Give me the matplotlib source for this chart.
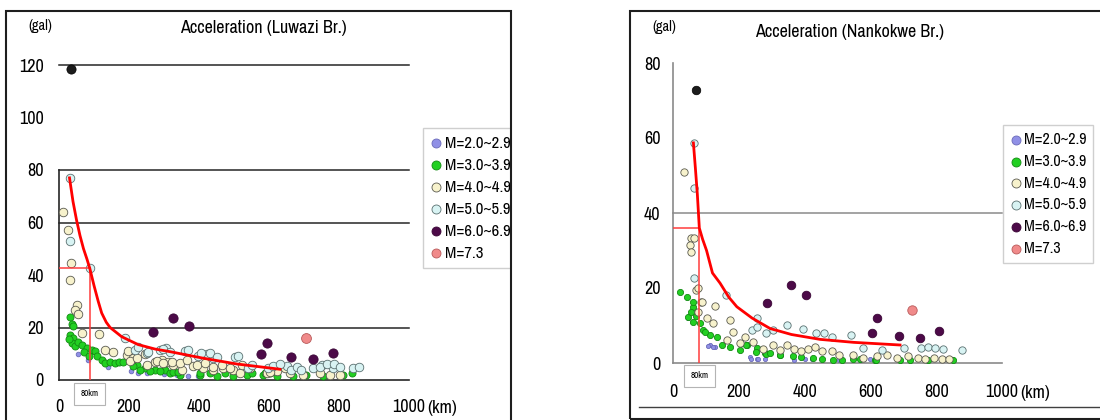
import matplotlib
matplotlib.use('Agg')
import matplotlib.pyplot as plt
from matplotlib import font_manager
from matplotlib.patches import Rectangle
from matplotlib.lines import Line2D

# the scan uses a condensed face, look for one
ttf = font_manager.fontManager.ttflist
names = {f.name for f in ttf}
FONT, STRETCH, K = 'DejaVu Sans', 'normal', 0.8
narrow = [n for n in sorted(names) if 'Narrow' in n or 'Condensed' in n]
if 'Liberation Sans Narrow' in names:
    FONT, K = 'Liberation Sans Narrow', 1.0
elif narrow:
    FONT, K = narrow[0], 1.0
else:
    for fam in ['DejaVu Sans', 'Noto Sans', 'Roboto', 'Open Sans']:
        if any(f.name == fam and str(f.stretch) in ('condensed', 'semi-condensed', '500', '600')
               for f in ttf):
            FONT, STRETCH, K = fam, 'condensed', 0.92
            break
plt.rcParams['font.family'] = FONT
plt.rcParams['font.stretch'] = STRETCH

labels = ['M=2.0~2.9', 'M=3.0~3.9', 'M=4.0~4.9', 'M=5.0~5.9', 'M=6.0~6.9', 'M=7.3']
colors = ['#9090e6', '#22d022', '#f7f2cc', '#d8f3f3', '#4c0a48', '#f08a8a']
edges = ['#6a6ab8', '#138a13', '#5a5a50', '#5a7070', '#3a0636', '#b85a5a']

xticks = [0, 200, 400, 600, 800, 1000]

# ---- Luwazi Br. ----
L_m2_km = [54, 82, 139, 207, 226, 250, 336, 369, 398, 536, 300]
L_m2_val = [9.8, 7.6, 5.0, 3.3, 2.6, 2.6, 2.0, 1.7, 1.7, 1.7, 2.2]
L_m3_km = [31, 36, 39, 31, 41, 36, 46, 28, 55, 65, 79, 93, 103, 108, 122, 131, 146, 160, 170, 184,
           222, 246, 274, 303, 70, 85, 212, 231, 260, 288, 317, 345, 402, 450, 498, 536, 583, 622,
           669, 707, 755, 812, 327, 341, 403, 431, 474, 550, 588, 603, 699, 838]
L_m3_val = [24, 21.5, 20.5, 17, 16, 14, 12.8, 15.5, 14.5, 13.5, 12.2, 11.6, 11, 9, 7.6, 6.3, 7, 6.3, 7, 7,
            5.7, 4.4, 3.8, 3.8, 10.5, 9, 5.2, 3.9, 3.3, 3.3, 2.7, 2, 2, 1.4, 1.4, 2, 2, 1.4,
            1.4, 2, 1.4, 2, 3.2, 3.2, 2.5, 2.5, 2.5, 2.5, 2.5, 2.5, 2, 2.5]
L_m4_km = [11, 25, 34, 31, 51, 46, 53, 65, 113, 131, 155, 193, 212, 246, 274, 293, 312, 198, 203, 222,
           250, 279, 298, 327, 350, 384, 412, 441, 469, 498, 517, 593, 622, 660, 698, 746, 774, 803,
           322, 346, 365, 393, 417, 441, 465, 489, 522, 546, 603, 646]
L_m4_val = [64, 57, 44.5, 38, 28.5, 26.7, 25, 18, 17.5, 11.4, 10.8, 9.5, 8.2, 10, 7, 7.6, 7, 11, 7.2, 8.5,
            5.9, 7.2, 6.5, 5.9, 3.9, 5.2, 4.6, 3.9, 4.6, 3.9, 2.7, 2.7, 3.3, 2.7, 2, 2.7, 2, 2,
            7, 6.3, 7.6, 5.7, 6.3, 5, 5.7, 4.4, 5.7, 4.4, 3.2, 4.4]
L_m5_km = [30, 31, 89, 189, 217, 250, 288, 307, 360, 398, 422, 441, 503, 541, 598, 650, 664, 727, 750,
           784, 841, 226, 255, 297, 316, 369, 407, 431, 450, 512, 550, 611, 630, 680, 690, 747,
           766, 785, 802, 857]
L_m5_val = [77, 53, 42.5, 16, 11.6, 10.3, 11.6, 12.3, 11, 9.1, 9.8, 8.5, 8.8, 4.6, 4.6, 5.2, 3.9, 4.6, 5.9,
            4.6, 4.6, 12.7, 10.8, 12, 10.8, 11.4, 10.2, 10.2, 8.9, 9.1, 5.7, 5.3, 6, 5, 3.8, 5,
            6, 6, 5, 4.9]
L_m6_km = [269, 325, 371, 576, 593, 663, 727, 784]
L_m6_val = [18.3, 23.8, 20.7, 9.9, 14, 8.9, 8, 10.4]
L_m73_km = [706]
L_m73_val = [15.9]
L_dark_km = [34]
L_dark_val = [118.5]
L_curve_km = [30, 40, 50, 60, 70, 80, 88, 100, 112, 122, 135, 146, 179, 226, 274, 317, 412, 508, 631]
L_curve_val = [77, 68, 61, 55, 50, 46, 42.5, 36, 30, 25.5, 22, 20, 16.5, 13.5, 11.8, 10.8, 8.3, 6.1, 4.1]
L_ref_km = 88
L_ref_val = 42.5
L_grid = [20, 60, 80, 120]

# ---- Nankokwe Br. ----
R_m2_km = [47, 112, 128, 234, 254, 107, 122, 237, 258, 279, 368, 400, 421, 504, 567, 598]
R_m2_val = [11.9, 4.8, 4.3, 1.7, 1.2, 4.6, 4.2, 1, 1, 1, 0.9, 1, 1, 0.8, 0.8, 1]
R_m3_km = [20, 44, 62, 47, 62, 82, 92, 112, 133, 148, 173, 204, 224, 254, 280, 222, 253, 284, 326, 389,
           452, 515, 567, 614, 719, 776, 850, 97, 294, 325, 365, 426, 486, 547, 618, 689, 55, 70, 60]
R_m3_val = [19, 17.7, 15, 12.3, 11, 10.6, 8.8, 7.5, 7, 4.8, 4.3, 3.5, 4.8, 4, 2.6, 4.7, 3, 2.5, 2.1, 1.7,
            1, 0.8, 1, 0.8, 0.8, 0.7, 0.8, 8.4, 2.6, 2.2, 1.8, 1.3, 0.9, 1, 0.9, 0.9, 13.5, 12.5, 16.2]
R_m4_km = [33, 54, 63, 52, 54, 70, 75, 86, 128, 87, 77, 102, 123, 173, 183, 163, 219, 204, 243, 274,
           305, 326, 347, 368, 389, 410, 431, 452, 483, 504, 546, 578, 619, 651, 682, 714, 745, 766,
           792, 818, 839]
R_m4_val = [51, 33.3, 33.3, 31.4, 29.7, 19.6, 20.1, 16.4, 15.2, 16.4, 13.7, 11.9, 10.6, 11.5, 8.4, 6.2, 7,
            5.3, 5.6, 3.8, 4.7, 3.6, 4.7, 3.8, 3.1, 3.8, 4.2, 3.1, 3.1, 2.2, 2.2, 1.4, 1.8, 2.2, 1.4,
            1.8, 1.4, 1, 1.4, 1, 1]
R_m5_km = [65, 65, 65, 162, 239, 254, 255, 284, 305, 345, 395, 436, 460, 483, 541, 578, 636, 701, 755,
           776, 797, 820, 879]
R_m5_val = [58.7, 46.6, 22.6, 18.1, 8.9, 12, 9.7, 7.9, 8.8, 10.1, 9.2, 7.9, 8.1, 7, 7.6, 4, 3.6, 4, 4,
            4.4, 4, 3.7, 3.5]
R_m6_km = [287, 358, 403, 604, 619, 688, 750, 808]
R_m6_val = [16, 20.8, 18.1, 7.9, 11.9, 7.2, 6.6, 8.5]
R_m73_km = [727]
R_m73_val = [14.1]
R_dark_km = [70]
R_dark_val = [72.8]
R_curve_km = [62, 68, 74, 80, 90, 102, 120, 143, 170, 194, 240, 295, 360, 447, 550, 690]
R_curve_val = [58.7, 52, 45, 36, 33, 30, 24, 21.3, 17.5, 15, 12, 9.2, 7.6, 6.3, 5.5, 4.8]
R_ref_km = 80
R_ref_val = 36
R_grid = [40]


def panel(ax, series, sizes, dark, curve, ref, grid, ymax, axcol, title_pos, title,
          gal_pos, leg_pos, fs, legfs, xpad, ypad, km_off, box_off):
    ax.set_xlim(0, 1000)
    ax.set_ylim(0, ymax)
    for s in ['top', 'right']:
        ax.spines[s].set_visible(False)
    for s in ['left', 'bottom']:
        ax.spines[s].set_color(axcol)
        ax.spines[s].set_linewidth(1.2)
    for g in grid:
        ax.axhline(g, color=axcol, lw=1.1, zorder=1, clip_on=False)

    handles = []
    for (km, val), lab, c, e, s in zip(series, labels, colors, edges, sizes):
        h = ax.scatter(km, val, s=s, c=c, edgecolors=e, linewidths=0.6, label=lab, zorder=3)
        handles.append(h)
    ax.scatter(dark[0], dark[1], s=sizes[4], c='#1c1c1c', edgecolors='#000000', linewidths=0.5,
               zorder=3, clip_on=False)

    ax.plot(curve[0], curve[1], color='#ff0000', lw=2, zorder=5)
    ax.plot([0, ref[0]], [ref[1], ref[1]], color='#ff3c3c', lw=1.1, zorder=4)
    ax.plot([ref[0], ref[0]], [0, ref[1]], color='#ff3c3c', lw=1.1, zorder=4)
    ax.annotate('80km', xy=(ref[0], 0), xytext=(0, box_off), textcoords='offset pixels',
                ha='center', va='center', fontsize=6.5 * K,
                bbox=dict(boxstyle='square,pad=0.7', fc='white', ec='#b4b4b4', lw=0.8))

    ax.set_xticks(xticks)
    ax.set_xticklabels([str(t) for t in xticks], fontsize=fs)
    yt = list(range(0, ymax + 1, 20))
    ax.set_yticks(yt)
    ax.set_yticklabels([str(t) for t in yt], fontsize=fs)
    ax.tick_params(axis='x', length=0, pad=xpad)
    ax.tick_params(axis='y', length=0, pad=ypad)
    ax.annotate('(km)', xy=(1, 0), xycoords='axes fraction', xytext=km_off,
                textcoords='offset pixels', ha='left', va='center', fontsize=fs)

    fig.text(title_pos[0], title_pos[1], title, ha='center', va='center', fontsize=fs)
    fig.text(gal_pos[0], gal_pos[1], '(gal)', ha='center', va='center', fontsize=fs * 0.8)

    leg = ax.legend(handles=handles, loc='upper left', bbox_to_anchor=leg_pos,
                    bbox_transform=fig.transFigure, fontsize=legfs, frameon=True, fancybox=False,
                    borderpad=0.45, handletextpad=0.15, handlelength=0.7, labelspacing=0.42 / K,
                    borderaxespad=0, scatterpoints=1)
    leg.get_frame().set_edgecolor('#c4c4c4')
    leg.get_frame().set_linewidth(1)
    for h in leg.legend_handles:
        h.set_sizes([42])


fig = plt.figure(figsize=(11, 4.2), dpi=100)
W, H = 1100.0, 420.0

ax1 = fig.add_axes([59 / W, 1 - 380 / H, 350 / W, 315 / H])
panel(ax1,
      [(L_m2_km, L_m2_val), (L_m3_km, L_m3_val), (L_m4_km, L_m4_val), (L_m5_km, L_m5_val),
       (L_m6_km, L_m6_val), (L_m73_km, L_m73_val)],
      [11, 26, 38, 38, 44, 50], (L_dark_km, L_dark_val), (L_curve_km, L_curve_val),
      (L_ref_km, L_ref_val), L_grid, 120, '#262626',
      (263 / W, 1 - 28 / H), 'Acceleration (Luwazi Br.)', (40 / W, 1 - 26 / H),
      (423 / W, 1 - 128 / H), 13 * K, 12 * K, 14, 11, (18, -28), -14)
ax1.spines['left'].set_bounds(0, 80)

ax2 = fig.add_axes([673 / W, 1 - 363 / H, 329 / W, 300 / H])
panel(ax2,
      [(R_m2_km, R_m2_val), (R_m3_km, R_m3_val), (R_m4_km, R_m4_val), (R_m5_km, R_m5_val),
       (R_m6_km, R_m6_val), (R_m73_km, R_m73_val)],
      [9, 20, 28, 28, 38, 46], (R_dark_km, R_dark_val), (R_curve_km, R_curve_val),
      (R_ref_km, R_ref_val), R_grid, 80, '#8a8a8a',
      (850 / W, 1 - 32 / H), 'Acceleration (Nankokwe Br.)', (664 / W, 1 - 27 / H),
      (1003 / W, 1 - 125 / H), 13 * K, 11.5 * K, 15, 9, (18, -30), -13)

# white gap between the two scanned charts, then their frames
fig.add_artist(Rectangle((512 / W, 0), (629 - 512) / W, 1, transform=fig.transFigure,
                         fc='white', ec='none', zorder=9))
fig.add_artist(Rectangle((6 / W, -0.1), (511 - 6) / W, 1 - 11 / H + 0.1, transform=fig.transFigure,
                         fill=False, ec='#1e1e1e', lw=1.5, zorder=10))
fig.add_artist(Rectangle((630 / W, 1 - 419 / H), 0.5, (419 - 11) / H, transform=fig.transFigure,
                         fill=False, ec='#1e1e1e', lw=1.5, zorder=10))
fig.add_artist(Line2D([639 / W, 1], [1 - 407 / H, 1 - 407 / H], transform=fig.transFigure,
                      color='#404040', lw=1, zorder=10))

fig.savefig('out.png', dpi=100, facecolor='white')
